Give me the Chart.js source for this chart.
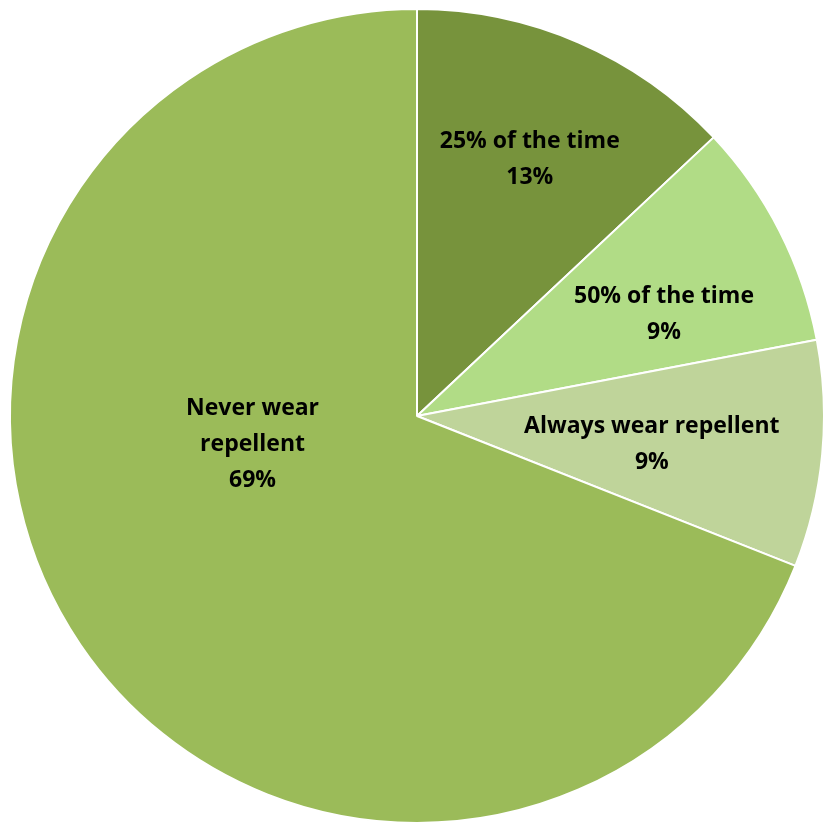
<!DOCTYPE html>
<html>
<head>
<meta charset="utf-8">
<script src="https://cdn.jsdelivr.net/npm/chart.js@4"></script>
<style>
  html, body { margin: 0; padding: 0; background: #fff; }
  #wrap { width: 825px; height: 827px; }
</style>
</head>
<body>
<div id="wrap"><canvas id="pie-chart"></canvas></div>
<script>
const categories = ['25% of the time', '50% of the time', 'Always wear repellent', 'Never wear repellent'];
const shares = [13, 9, 9, 69];
const sliceColors = ['#77933c', '#b1dc86', '#bfd49a', '#9bbb59'];

// label text lines per slice, with where each label block sits (fraction of radius from centre)
const labelLines = [
    ['25% of the time'],
    ['50% of the time'],
    ['Always wear repellent'],
    ['Never wear', 'repellent']
];
const labelSpots = [[0.277, -0.63], [0.607, -0.25], [0.577, 0.07], [-0.404, 0.07]];

const sliceLabels = {
    id: 'sliceLabels',
    afterDatasetsDraw(chart) {
        const ctx = chart.ctx;
        const meta = chart.getDatasetMeta(0);
        ctx.save();
        ctx.fillStyle = '#000';
        ctx.font = 'bold 23px "Open Sans", Lato, sans-serif';
        ctx.textAlign = 'center';
        ctx.textBaseline = 'middle';
        meta.data.forEach(function (arc, i) {
            const lines = labelLines[i].concat([shares[i] + '%']);
            const cx = arc.x + arc.outerRadius * labelSpots[i][0];
            const cy = arc.y + arc.outerRadius * labelSpots[i][1];
            const lineH = 36;
            const top = cy - (lines.length - 1) * lineH / 2;
            lines.forEach(function (t, j) {
                ctx.fillText(t, cx, top + j * lineH);
            });
        });
        ctx.restore();
    }
};

const ctx = document.getElementById('pie-chart').getContext('2d');
new Chart(ctx, {
    type: 'pie',
    data: {
        labels: categories,
        datasets: [{
            data: shares,
            backgroundColor: sliceColors,
            borderColor: '#ffffff',
            borderWidth: 2
        }]
    },
    options: {
        responsive: true,
        maintainAspectRatio: false,
        animation: false,
        layout: { padding: { left: 9, right: 0, top: 7, bottom: 2 } },
        plugins: {
            legend: { display: false },
            tooltip: { enabled: false }
        }
    },
    plugins: [sliceLabels]
});
</script>
</body>
</html>
